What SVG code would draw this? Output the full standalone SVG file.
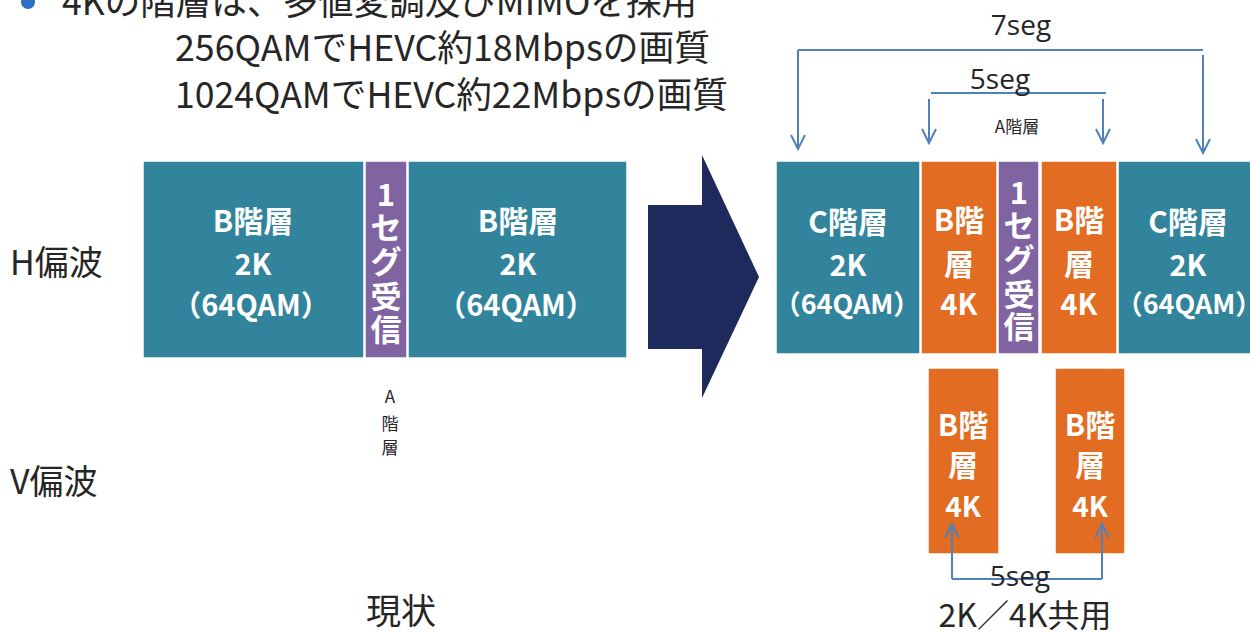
<svg xmlns="http://www.w3.org/2000/svg" width="1250" height="633" viewBox="0 0 1250 633">
<defs>
<style>
.jp{font-family:"Noto Sans CJK JP","Noto Sans",sans-serif;}
.dark{fill:#262626;}
.wb{fill:#ffffff;font-weight:bold;font-family:"Noto Sans CJK JP","Noto Sans",sans-serif;text-anchor:middle;dominant-baseline:central;}
.teal{fill:#31849B;stroke:#ffffff;stroke-width:1.5;}
.orange{fill:#E36C23;stroke:#ffffff;stroke-width:1.5;}
.purple{fill:#8064A2;stroke:#ffffff;stroke-width:1.5;}
.conn{fill:none;stroke:#4F81BD;stroke-width:2;}
.seg{font-family:"Open Sans","Noto Sans",sans-serif;font-size:28px;fill:#262626;text-anchor:middle;}
</style>
<marker id="ah" markerUnits="userSpaceOnUse" markerWidth="18" markerHeight="18" viewBox="0 0 18 18" refX="16" refY="9" orient="auto">
<path d="M2,2 L16,9 L2,16" fill="none" stroke="#4F81BD" stroke-width="2"/>
</marker>
</defs>
<rect width="1250" height="633" fill="#ffffff"/>

<g id="title">
<circle cx="28" cy="2" r="7" fill="#2E6DC4"/>
<text class="jp dark" x="62" y="15" font-size="36" textLength="635" lengthAdjust="spacingAndGlyphs">4Kの階層は、多値変調及びMIMOを採用</text>
<text class="jp dark" x="175" y="61" font-size="36" textLength="535" lengthAdjust="spacingAndGlyphs">256QAMでHEVC約18Mbpsの画質</text>
<text class="jp dark" x="175" y="108" font-size="36" textLength="553" lengthAdjust="spacingAndGlyphs">1024QAMでHEVC約22Mbpsの画質</text>
</g>

<g id="labels">
<text class="jp dark" x="10" y="275" font-size="34">H偏波</text>
<text class="jp dark" x="10" y="494" font-size="34">V偏波</text>
<text class="jp dark" x="401" y="624" font-size="35" text-anchor="middle">現状</text>
<text class="jp dark" x="1025" y="627" font-size="32" text-anchor="middle">2K／4K共用</text>
</g>

<g id="left-B1">
<rect class="teal" x="143" y="161" width="221" height="197"/>
<text class="wb" x="253" y="219" font-size="30">B階層</text>
<text class="wb" x="253" y="262" font-size="29">2K</text>
<text class="wb" x="251" y="303" font-size="29">（64QAM）</text>
</g>
<g id="left-A">
<rect class="purple" x="365" y="161" width="42" height="197"/>
<g class="wb" font-size="31">
<text x="386" y="192">1</text>
<text x="386" y="225">セ</text>
<text x="386" y="259">グ</text>
<text x="386" y="294">受</text>
<text x="386" y="327">信</text>
</g>
<g class="jp dark" font-size="17" text-anchor="middle" dominant-baseline="central">
<text x="390" y="395">A</text>
<text x="390" y="422">階</text>
<text x="390" y="446">層</text>
</g>
</g>
<g id="left-B2">
<rect class="teal" x="408" y="161" width="219" height="197"/>
<text class="wb" x="518" y="219" font-size="30">B階層</text>
<text class="wb" x="518" y="262" font-size="29">2K</text>
<text class="wb" x="516" y="303" font-size="29">（64QAM）</text>
</g>

<g id="big-arrow">
<polygon points="648,205 702,205 702,155 759,277 702,398 702,349 648,349" fill="#1F2A5C"/>
</g>

<g id="right-C1">
<rect class="teal" x="776" y="161" width="144" height="193"/>
<text class="wb" x="848" y="220" font-size="30">C階層</text>
<text class="wb" x="848" y="263" font-size="29">2K</text>
<text class="wb" x="847" y="302" font-size="27">（64QAM）</text>
</g>
<g id="right-B1">
<rect class="orange" x="921" y="161" width="76" height="193"/>
<text class="wb" x="959" y="218" font-size="30">B階</text>
<text class="wb" x="959" y="262" font-size="30">層</text>
<text class="wb" x="959" y="302" font-size="29">4K</text>
</g>
<g id="right-A">
<rect class="purple" x="998" y="161" width="41" height="193"/>
<g class="wb" font-size="31">
<text x="1019" y="190">1</text>
<text x="1019" y="223">セ</text>
<text x="1019" y="257">グ</text>
<text x="1019" y="292">受</text>
<text x="1019" y="324">信</text>
</g>
<text class="jp dark" x="1017" y="125" font-size="17" text-anchor="middle" dominant-baseline="central">A階層</text>
</g>
<g id="right-B2">
<rect class="orange" x="1041" y="161" width="76" height="193"/>
<text class="wb" x="1079" y="218" font-size="30">B階</text>
<text class="wb" x="1079" y="262" font-size="30">層</text>
<text class="wb" x="1079" y="302" font-size="29">4K</text>
</g>
<g id="right-C2">
<rect class="teal" x="1118" y="161" width="134" height="193"/>
<text class="wb" x="1188" y="220" font-size="30">C階層</text>
<text class="wb" x="1188" y="263" font-size="29">2K</text>
<text class="wb" x="1189" y="302" font-size="27">（64QAM）</text>
</g>

<g id="v-B1">
<rect class="orange" x="928" y="368" width="71" height="186"/>
<text class="wb" x="963" y="423" font-size="30">B階</text>
<text class="wb" x="963" y="463" font-size="30">層</text>
<text class="wb" x="963" y="505" font-size="28">4K</text>
</g>
<g id="v-B2">
<rect class="orange" x="1055" y="368" width="70" height="186"/>
<text class="wb" x="1090" y="423" font-size="30">B階</text>
<text class="wb" x="1090" y="463" font-size="30">層</text>
<text class="wb" x="1090" y="505" font-size="28">4K</text>
</g>

<g id="connectors">
<path class="conn" d="M798,50 H1203"/>
<path class="conn" d="M798,50 V149" marker-end="url(#ah)"/>
<path class="conn" d="M1203,55 V153" marker-end="url(#ah)"/>
<path class="conn" d="M931,93 H1106"/>
<path class="conn" d="M929,99 V143" marker-end="url(#ah)"/>
<path class="conn" d="M1103,99 V143" marker-end="url(#ah)"/>
<path class="conn" d="M952,579 H1102"/>
<path class="conn" d="M952,579 V524" marker-end="url(#ah)"/>
<path class="conn" d="M1102,579 V524" marker-end="url(#ah)"/>
<text class="seg" x="1021" y="35">7seg</text>
<text class="seg" x="1000" y="89">5seg</text>
<text class="seg" x="1020" y="586">5seg</text>
</g>
</svg>
